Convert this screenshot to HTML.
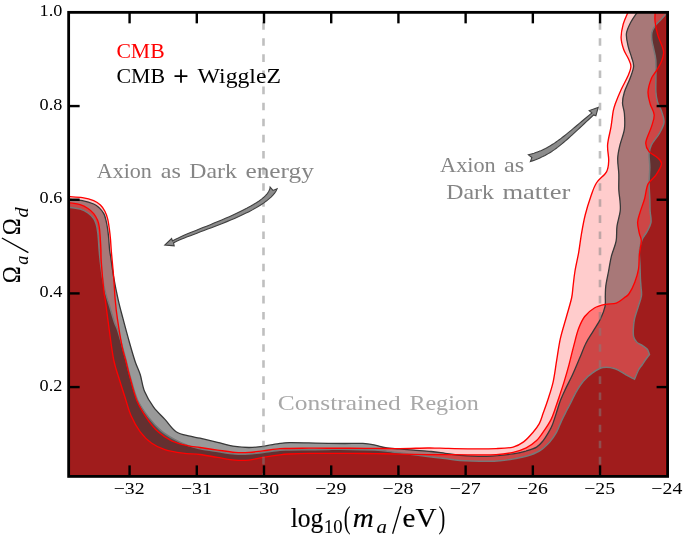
<!DOCTYPE html>
<html><head><meta charset="utf-8"><title>Axion constraints</title>
<style>
html,body{margin:0;padding:0;background:#fff;}
body{width:685px;height:535px;position:relative;overflow:hidden;font-family:"Liberation Serif",serif;}
svg text{font-family:"Liberation Serif",serif;}
</style></head><body>
<svg width="685" height="535" viewBox="0 0 685 535" style="position:absolute;left:0;top:0;will-change:transform">
<defs>
<clipPath id="cRo"><path d="M68.70,196.60 C68.93,196.62 67.82,196.53 70.10,196.70 C72.38,196.87 78.47,196.93 82.40,197.60 C86.33,198.27 90.70,199.45 93.70,200.70 C96.70,201.95 98.53,203.33 100.40,205.10 C102.27,206.87 103.68,208.95 104.90,211.30 C106.12,213.65 106.95,216.20 107.70,219.20 C108.45,222.20 108.93,225.93 109.40,229.30 C109.87,232.67 110.17,235.62 110.50,239.40 C110.83,243.18 110.87,245.67 111.40,252.00 C111.93,258.33 113.07,269.43 113.70,277.40 C114.33,285.37 114.58,292.92 115.20,299.80 C115.82,306.68 116.25,310.88 117.40,318.70 C118.55,326.52 120.73,339.82 122.10,346.70 C123.47,353.58 124.27,354.80 125.60,360.00 C126.93,365.20 128.23,371.17 130.10,377.90 C131.97,384.63 134.00,393.67 136.80,400.40 C139.60,407.13 143.35,413.07 146.90,418.30 C150.45,423.53 153.98,428.05 158.10,431.80 C162.22,435.55 166.73,438.50 171.60,440.80 C176.47,443.10 182.57,444.48 187.30,445.60 C192.03,446.72 194.97,446.75 200.00,447.50 C205.03,448.25 211.67,449.28 217.50,450.10 C223.33,450.92 229.75,452.02 235.00,452.40 C240.25,452.78 244.33,452.67 249.00,452.40 C253.67,452.13 257.83,451.42 263.00,450.80 C268.17,450.18 275.57,449.08 280.00,448.70 C284.43,448.32 284.80,448.58 289.60,448.50 C294.40,448.42 302.38,448.25 308.80,448.20 C315.22,448.15 321.23,448.20 328.10,448.20 C334.97,448.20 342.18,448.17 350.00,448.20 C357.82,448.23 366.73,448.33 375.00,448.40 C383.27,448.47 390.83,448.67 399.60,448.60 C408.37,448.53 420.87,448.07 427.60,448.00 C434.33,447.93 433.27,448.07 440.00,448.20 C446.73,448.33 458.65,448.73 468.00,448.80 C477.35,448.87 488.58,448.88 496.10,448.60 C503.62,448.32 508.52,448.22 513.10,447.10 C517.68,445.98 520.33,444.30 523.60,441.90 C526.87,439.50 530.08,435.75 532.70,432.70 C535.32,429.65 537.55,426.87 539.30,423.60 C541.05,420.33 541.78,417.03 543.20,413.10 C544.62,409.17 546.15,405.17 547.80,400.00 C549.45,394.83 551.62,388.73 553.10,382.10 C554.58,375.47 555.48,367.48 556.70,360.20 C557.92,352.92 558.77,345.68 560.40,338.40 C562.03,331.12 564.63,323.23 566.50,316.50 C568.37,309.77 570.50,303.08 571.60,298.00 C572.70,292.92 572.53,290.50 573.10,286.00 C573.67,281.50 574.07,276.62 575.00,271.00 C575.93,265.38 577.62,258.53 578.70,252.30 C579.78,246.07 580.42,239.82 581.50,233.60 C582.58,227.38 583.65,221.18 585.20,215.00 C586.75,208.82 588.93,201.83 590.80,196.50 C592.67,191.17 593.78,187.12 596.40,183.00 C599.02,178.88 604.45,175.53 606.50,171.80 C608.55,168.07 608.52,165.08 608.70,160.60 C608.88,156.12 607.22,150.52 607.60,144.90 C607.98,139.28 610.07,132.52 611.00,126.90 C611.93,121.28 612.45,115.15 613.20,111.20 C613.95,107.25 614.18,106.78 615.50,103.20 C616.82,99.62 619.05,94.18 621.10,89.70 C623.15,85.22 626.17,80.17 627.80,76.30 C629.43,72.43 630.82,69.45 630.90,66.50 C630.98,63.55 629.50,61.43 628.30,58.60 C627.10,55.77 624.90,52.98 623.70,49.50 C622.50,46.02 621.20,41.85 621.10,37.70 C621.00,33.55 622.00,28.73 623.10,24.60 C624.20,20.47 626.85,15.00 627.70,12.90 C628.55,10.80 628.12,12.15 628.20,12.00 L667.60,12.35 L667.60,476.40 L68.65,476.40 Z"/></clipPath>
<clipPath id="cKo"><path d="M68.70,199.40 C68.93,199.42 67.82,199.28 70.10,199.50 C72.38,199.72 78.47,199.95 82.40,200.70 C86.33,201.45 90.88,202.80 93.70,204.00 C96.52,205.20 97.62,206.30 99.30,207.90 C100.98,209.50 102.68,211.53 103.80,213.60 C104.92,215.67 105.35,217.68 106.00,220.30 C106.65,222.92 107.23,226.12 107.70,229.30 C108.17,232.48 108.48,235.95 108.80,239.40 C109.12,242.85 109.28,247.07 109.60,250.00 C109.92,252.93 110.02,252.43 110.70,257.00 C111.38,261.57 112.45,270.27 113.70,277.40 C114.95,284.53 116.65,292.92 118.20,299.80 C119.75,306.68 121.10,311.50 123.00,318.70 C124.90,325.90 127.57,335.83 129.60,343.00 C131.63,350.17 133.43,356.45 135.20,361.70 C136.97,366.95 138.63,369.53 140.20,374.50 C141.77,379.47 142.37,386.07 144.60,391.50 C146.83,396.93 150.22,402.45 153.60,407.10 C156.98,411.75 161.15,415.28 164.90,419.40 C168.65,423.52 171.92,429.00 176.10,431.80 C180.28,434.60 186.02,435.13 190.00,436.20 C193.98,437.27 195.42,437.18 200.00,438.20 C204.58,439.22 211.67,440.93 217.50,442.30 C223.33,443.67 229.75,445.53 235.00,446.40 C240.25,447.27 244.33,447.50 249.00,447.50 C253.67,447.50 257.83,447.08 263.00,446.40 C268.17,445.72 275.57,444.03 280.00,443.40 C284.43,442.77 284.80,442.68 289.60,442.60 C294.40,442.52 302.38,442.77 308.80,442.90 C315.22,443.03 322.07,443.30 328.10,443.40 C334.13,443.50 339.22,443.50 345.00,443.50 C350.78,443.50 357.80,443.13 362.80,443.40 C367.80,443.67 371.20,444.38 375.00,445.10 C378.80,445.82 381.50,447.07 385.60,447.70 C389.70,448.33 394.93,448.50 399.60,448.90 C404.27,449.30 408.35,449.67 413.60,450.10 C418.85,450.53 425.85,450.97 431.10,451.50 C436.35,452.03 440.28,452.67 445.10,453.30 C449.92,453.93 453.07,454.80 460.00,455.30 C466.93,455.80 477.85,456.53 486.70,456.30 C495.55,456.07 506.52,454.78 513.10,453.90 C519.68,453.02 522.28,452.13 526.20,451.00 C530.12,449.87 533.77,448.83 536.60,447.10 C539.43,445.37 541.23,443.00 543.20,440.60 C545.17,438.20 546.88,435.32 548.40,432.70 C549.92,430.08 550.98,428.17 552.30,424.90 C553.62,421.63 554.95,417.17 556.30,413.10 C557.65,409.03 558.90,404.45 560.40,400.50 C561.90,396.55 563.28,393.68 565.30,389.40 C567.32,385.12 570.08,380.07 572.50,374.80 C574.92,369.53 577.57,363.07 579.80,357.80 C582.03,352.53 583.67,347.65 585.90,343.20 C588.13,338.75 590.77,335.15 593.20,331.10 C595.63,327.05 598.53,322.97 600.50,318.90 C602.47,314.83 604.20,310.52 605.00,306.70 C605.80,302.88 605.17,299.45 605.30,296.00 C605.43,292.55 605.25,290.17 605.80,286.00 C606.35,281.83 607.67,275.98 608.60,271.00 C609.53,266.02 610.15,261.08 611.40,256.10 C612.65,251.12 615.17,246.08 616.10,241.10 C617.03,236.12 616.32,231.18 617.00,226.20 C617.68,221.22 619.70,215.40 620.20,211.20 C620.70,207.00 620.23,204.58 620.00,201.00 C619.77,197.42 619.00,194.20 618.80,189.70 C618.60,185.20 618.98,179.23 618.80,174.00 C618.62,168.77 617.50,163.15 617.70,158.30 C617.90,153.45 618.88,149.75 620.00,144.90 C621.12,140.05 623.67,134.43 624.40,129.20 C625.13,123.97 624.72,117.87 624.40,113.50 C624.08,109.13 622.50,106.58 622.50,103.00 C622.50,99.42 623.15,96.08 624.40,92.00 C625.65,87.92 628.47,82.75 630.00,78.50 C631.53,74.25 633.33,70.03 633.60,66.50 C633.87,62.97 632.48,60.57 631.60,57.30 C630.72,54.03 629.17,50.82 628.30,46.90 C627.43,42.98 625.97,37.95 626.40,33.80 C626.83,29.65 629.17,25.48 630.90,22.00 C632.63,18.52 635.73,14.57 636.80,12.90 C637.87,11.23 637.22,12.15 637.30,12.00 L667.60,12.35 L667.60,476.40 L68.65,476.40 Z"/></clipPath>
<clipPath id="cRi"><path d="M68.70,202.70 C68.93,202.73 68.18,202.58 70.10,202.90 C72.02,203.22 77.22,203.67 80.20,204.60 C83.18,205.53 85.75,207.00 88.00,208.50 C90.25,210.00 92.10,211.63 93.70,213.60 C95.30,215.57 96.67,218.07 97.60,220.30 C98.53,222.53 98.87,224.20 99.30,227.00 C99.73,229.80 99.93,233.35 100.20,237.10 C100.47,240.85 100.72,245.28 100.90,249.50 C101.08,253.72 100.78,255.27 101.30,262.40 C101.82,269.53 103.33,286.03 104.00,292.30 C104.67,298.57 104.47,294.05 105.30,300.00 C106.13,305.95 107.60,318.03 109.00,328.00 C110.40,337.97 111.93,351.08 113.70,359.80 C115.47,368.52 117.78,374.27 119.60,380.30 C121.42,386.33 122.67,390.03 124.60,396.00 C126.53,401.97 128.60,410.13 131.20,416.10 C133.80,422.07 136.83,427.32 140.20,431.80 C143.57,436.28 147.28,440.02 151.40,443.00 C155.52,445.98 159.67,448.00 164.90,449.70 C170.13,451.40 176.95,452.40 182.80,453.20 C188.65,454.00 194.22,453.80 200.00,454.50 C205.78,455.20 211.67,456.47 217.50,457.40 C223.33,458.33 229.75,459.65 235.00,460.10 C240.25,460.55 244.33,460.55 249.00,460.10 C253.67,459.65 257.83,458.28 263.00,457.40 C268.17,456.52 275.57,455.37 280.00,454.80 C284.43,454.23 284.80,454.23 289.60,454.00 C294.40,453.77 302.38,453.50 308.80,453.40 C315.22,453.30 321.23,453.40 328.10,453.40 C334.97,453.40 342.18,453.37 350.00,453.40 C357.82,453.43 366.73,453.47 375.00,453.60 C383.27,453.73 390.83,454.03 399.60,454.20 C408.37,454.37 420.02,454.53 427.60,454.60 C435.18,454.67 438.37,454.57 445.10,454.60 C451.83,454.63 459.50,454.80 468.00,454.80 C476.50,454.80 488.58,455.02 496.10,454.60 C503.62,454.18 508.08,453.43 513.10,452.30 C518.12,451.17 522.28,449.75 526.20,447.80 C530.12,445.85 533.55,443.55 536.60,440.60 C539.65,437.65 542.10,433.60 544.50,430.10 C546.90,426.60 549.25,423.08 551.00,419.60 C552.75,416.12 553.63,413.02 555.00,409.20 C556.37,405.38 557.70,401.22 559.20,396.70 C560.70,392.18 562.38,387.37 564.00,382.10 C565.62,376.83 567.27,371.18 568.90,365.10 C570.53,359.02 572.18,351.68 573.80,345.60 C575.42,339.52 576.78,333.45 578.60,328.60 C580.42,323.75 582.07,319.93 584.70,316.50 C587.33,313.07 590.95,310.03 594.40,308.00 C597.85,305.97 601.75,305.12 605.40,304.30 C609.05,303.48 613.20,304.15 616.30,303.10 C619.40,302.05 621.85,299.60 624.00,298.00 C626.15,296.40 627.40,296.13 629.20,293.50 C631.00,290.87 633.25,286.25 634.80,282.20 C636.35,278.15 637.73,273.87 638.50,269.20 C639.27,264.53 638.93,258.88 639.40,254.20 C639.87,249.52 641.30,244.53 641.30,241.10 C641.30,237.67 640.02,236.72 639.40,233.60 C638.78,230.48 637.48,225.97 637.60,222.40 C637.72,218.83 638.93,216.15 640.10,212.20 C641.27,208.25 643.28,203.38 644.60,198.70 C645.92,194.02 646.12,188.03 648.00,184.10 C649.88,180.17 653.65,178.47 655.90,175.10 C658.15,171.73 661.32,166.88 661.50,163.90 C661.68,160.92 659.07,159.25 657.00,157.20 C654.93,155.15 650.97,154.03 649.10,151.60 C647.23,149.17 645.42,146.72 645.80,142.60 C646.18,138.48 650.00,131.50 651.40,126.90 C652.80,122.30 654.40,118.82 654.20,115.00 C654.00,111.18 651.23,107.83 650.20,104.00 C649.17,100.17 647.80,96.25 648.00,92.00 C648.20,87.75 650.10,81.88 651.40,78.50 C652.70,75.12 654.20,74.35 655.80,71.70 C657.40,69.05 659.70,65.65 661.00,62.60 C662.30,59.55 663.38,56.02 663.60,53.40 C663.82,50.78 663.27,49.95 662.30,46.90 C661.33,43.85 659.00,39.25 657.80,35.10 C656.60,30.95 655.55,25.70 655.10,22.00 C654.65,18.30 655.10,14.57 655.10,12.90 C655.10,11.23 655.10,12.15 655.10,12.00 L667.60,12.35 L667.60,476.40 L68.65,476.40 Z"/></clipPath>
<clipPath id="cKi"><path d="M68.70,207.20 C68.93,207.23 68.18,207.10 70.10,207.40 C72.02,207.70 77.22,208.08 80.20,209.00 C83.18,209.92 85.75,211.32 88.00,212.90 C90.25,214.48 92.32,216.57 93.70,218.50 C95.08,220.43 95.62,222.15 96.30,224.50 C96.98,226.85 97.43,229.93 97.80,232.60 C98.17,235.27 98.28,237.68 98.50,240.50 C98.72,243.32 98.80,245.92 99.10,249.50 C99.40,253.08 99.73,257.25 100.30,262.00 C100.87,266.75 101.65,272.93 102.50,278.00 C103.35,283.07 104.17,287.52 105.40,292.40 C106.63,297.28 108.40,302.33 109.90,307.30 C111.40,312.27 113.08,318.33 114.40,322.20 C115.72,326.07 116.45,326.37 117.80,330.50 C119.15,334.63 121.13,342.08 122.50,347.00 C123.87,351.92 124.65,354.83 126.00,360.00 C127.35,365.17 128.67,371.33 130.60,378.00 C132.53,384.67 134.57,393.40 137.60,400.00 C140.63,406.60 144.90,412.50 148.80,417.60 C152.70,422.70 156.80,427.00 161.00,430.60 C165.20,434.20 169.57,436.73 174.00,439.20 C178.43,441.67 183.27,443.80 187.60,445.40 C191.93,447.00 195.02,447.77 200.00,448.80 C204.98,449.83 211.67,450.73 217.50,451.60 C223.33,452.47 229.75,453.60 235.00,454.00 C240.25,454.40 244.33,454.25 249.00,454.00 C253.67,453.75 257.83,453.12 263.00,452.50 C268.17,451.88 275.57,450.72 280.00,450.30 C284.43,449.88 284.80,450.10 289.60,450.00 C294.40,449.90 302.40,449.78 308.80,449.70 C315.20,449.62 322.80,449.58 328.00,449.50 C333.20,449.42 332.17,449.10 340.00,449.20 C347.83,449.30 366.23,449.63 375.00,450.10 C383.77,450.57 386.75,451.32 392.60,452.00 C398.45,452.68 404.27,453.45 410.10,454.20 C415.93,454.95 421.77,455.77 427.60,456.50 C433.43,457.23 439.70,457.93 445.10,458.60 C450.50,459.27 453.07,460.05 460.00,460.50 C466.93,460.95 480.03,461.25 486.70,461.30 C493.37,461.35 495.60,461.20 500.00,460.80 C504.40,460.40 508.73,459.65 513.10,458.90 C517.47,458.15 521.83,457.62 526.20,456.30 C530.57,454.98 535.38,453.40 539.30,451.00 C543.22,448.60 546.87,444.95 549.70,441.90 C552.53,438.85 554.33,436.20 556.30,432.70 C558.27,429.20 559.77,424.60 561.50,420.90 C563.23,417.20 565.27,413.32 566.70,410.50 C568.13,407.68 568.52,407.12 570.10,404.00 C571.68,400.88 573.97,395.65 576.20,391.80 C578.43,387.95 580.67,384.13 583.50,380.90 C586.33,377.67 589.97,374.63 593.20,372.40 C596.43,370.17 599.25,368.12 602.90,367.50 C606.55,366.88 611.25,367.48 615.10,368.70 C618.95,369.92 622.77,373.05 626.00,374.80 C629.23,376.55 631.70,377.75 634.50,379.20 C635.82,376.16 637.25,372.37 638.50,370.00 C639.75,367.63 640.83,366.70 642.00,365.00 C643.17,363.30 644.25,361.55 645.50,359.80 C646.75,358.05 648.18,356.25 649.50,354.50 C648.77,352.78 648.40,350.75 647.30,349.30 C646.20,347.85 644.65,346.97 642.90,345.80 C641.15,344.63 638.33,343.77 636.80,342.30 C635.27,340.83 634.28,339.05 633.70,337.00 C633.12,334.95 633.17,333.02 633.30,330.00 C633.43,326.98 633.68,322.78 634.50,318.90 C635.32,315.02 637.05,310.52 638.20,306.70 C639.35,302.88 640.93,299.28 641.40,296.00 C641.87,292.72 641.17,289.92 641.00,287.00 C640.83,284.08 640.57,282.10 640.40,278.50 C640.23,274.90 640.17,270.07 640.00,265.40 C639.83,260.73 639.03,254.85 639.40,250.50 C639.77,246.15 640.95,242.42 642.20,239.30 C643.45,236.18 645.43,234.62 646.90,231.80 C648.37,228.98 650.47,225.83 651.00,222.40 C651.53,218.97 650.30,215.15 650.10,211.20 C649.90,207.25 649.97,203.40 649.80,198.70 C649.63,194.00 649.10,188.23 649.10,183.00 C649.10,177.77 649.80,172.17 649.80,167.30 C649.80,162.43 648.83,157.53 649.10,153.80 C649.37,150.07 649.72,148.27 651.40,144.90 C653.08,141.53 657.10,137.35 659.20,133.60 C661.30,129.85 663.62,126.13 664.00,122.40 C664.38,118.67 662.58,114.60 661.50,111.20 C660.42,107.80 658.43,105.20 657.50,102.00 C656.57,98.80 656.17,95.92 655.90,92.00 C655.63,88.08 655.92,83.83 655.90,78.50 C655.88,73.17 656.15,64.83 655.80,60.00 C655.45,55.17 654.45,52.78 653.80,49.50 C653.15,46.22 652.22,43.13 651.90,40.30 C651.58,37.47 651.37,34.90 651.90,32.50 C652.43,30.10 653.58,28.08 655.10,25.90 C656.62,23.72 659.13,21.47 661.00,19.40 C662.87,17.33 665.30,14.73 666.30,13.50 C667.30,12.27 666.88,12.25 667.00,12.00 L667.60,12.35 L667.60,476.40 L68.65,476.40 Z"/></clipPath>
<clipPath id="cAx"><rect x="68.65" y="12.35" width="598.95" height="464.05"/></clipPath>
</defs>
<g clip-path="url(#cAx)">
<path d="M68.70,196.60 C68.93,196.62 67.82,196.53 70.10,196.70 C72.38,196.87 78.47,196.93 82.40,197.60 C86.33,198.27 90.70,199.45 93.70,200.70 C96.70,201.95 98.53,203.33 100.40,205.10 C102.27,206.87 103.68,208.95 104.90,211.30 C106.12,213.65 106.95,216.20 107.70,219.20 C108.45,222.20 108.93,225.93 109.40,229.30 C109.87,232.67 110.17,235.62 110.50,239.40 C110.83,243.18 110.87,245.67 111.40,252.00 C111.93,258.33 113.07,269.43 113.70,277.40 C114.33,285.37 114.58,292.92 115.20,299.80 C115.82,306.68 116.25,310.88 117.40,318.70 C118.55,326.52 120.73,339.82 122.10,346.70 C123.47,353.58 124.27,354.80 125.60,360.00 C126.93,365.20 128.23,371.17 130.10,377.90 C131.97,384.63 134.00,393.67 136.80,400.40 C139.60,407.13 143.35,413.07 146.90,418.30 C150.45,423.53 153.98,428.05 158.10,431.80 C162.22,435.55 166.73,438.50 171.60,440.80 C176.47,443.10 182.57,444.48 187.30,445.60 C192.03,446.72 194.97,446.75 200.00,447.50 C205.03,448.25 211.67,449.28 217.50,450.10 C223.33,450.92 229.75,452.02 235.00,452.40 C240.25,452.78 244.33,452.67 249.00,452.40 C253.67,452.13 257.83,451.42 263.00,450.80 C268.17,450.18 275.57,449.08 280.00,448.70 C284.43,448.32 284.80,448.58 289.60,448.50 C294.40,448.42 302.38,448.25 308.80,448.20 C315.22,448.15 321.23,448.20 328.10,448.20 C334.97,448.20 342.18,448.17 350.00,448.20 C357.82,448.23 366.73,448.33 375.00,448.40 C383.27,448.47 390.83,448.67 399.60,448.60 C408.37,448.53 420.87,448.07 427.60,448.00 C434.33,447.93 433.27,448.07 440.00,448.20 C446.73,448.33 458.65,448.73 468.00,448.80 C477.35,448.87 488.58,448.88 496.10,448.60 C503.62,448.32 508.52,448.22 513.10,447.10 C517.68,445.98 520.33,444.30 523.60,441.90 C526.87,439.50 530.08,435.75 532.70,432.70 C535.32,429.65 537.55,426.87 539.30,423.60 C541.05,420.33 541.78,417.03 543.20,413.10 C544.62,409.17 546.15,405.17 547.80,400.00 C549.45,394.83 551.62,388.73 553.10,382.10 C554.58,375.47 555.48,367.48 556.70,360.20 C557.92,352.92 558.77,345.68 560.40,338.40 C562.03,331.12 564.63,323.23 566.50,316.50 C568.37,309.77 570.50,303.08 571.60,298.00 C572.70,292.92 572.53,290.50 573.10,286.00 C573.67,281.50 574.07,276.62 575.00,271.00 C575.93,265.38 577.62,258.53 578.70,252.30 C579.78,246.07 580.42,239.82 581.50,233.60 C582.58,227.38 583.65,221.18 585.20,215.00 C586.75,208.82 588.93,201.83 590.80,196.50 C592.67,191.17 593.78,187.12 596.40,183.00 C599.02,178.88 604.45,175.53 606.50,171.80 C608.55,168.07 608.52,165.08 608.70,160.60 C608.88,156.12 607.22,150.52 607.60,144.90 C607.98,139.28 610.07,132.52 611.00,126.90 C611.93,121.28 612.45,115.15 613.20,111.20 C613.95,107.25 614.18,106.78 615.50,103.20 C616.82,99.62 619.05,94.18 621.10,89.70 C623.15,85.22 626.17,80.17 627.80,76.30 C629.43,72.43 630.82,69.45 630.90,66.50 C630.98,63.55 629.50,61.43 628.30,58.60 C627.10,55.77 624.90,52.98 623.70,49.50 C622.50,46.02 621.20,41.85 621.10,37.70 C621.00,33.55 622.00,28.73 623.10,24.60 C624.20,20.47 626.85,15.00 627.70,12.90 C628.55,10.80 628.12,12.15 628.20,12.00 L667.60,12.35 L667.60,476.40 L68.65,476.40 Z" fill="#ffcccc"/>
<path d="M68.70,199.40 C68.93,199.42 67.82,199.28 70.10,199.50 C72.38,199.72 78.47,199.95 82.40,200.70 C86.33,201.45 90.88,202.80 93.70,204.00 C96.52,205.20 97.62,206.30 99.30,207.90 C100.98,209.50 102.68,211.53 103.80,213.60 C104.92,215.67 105.35,217.68 106.00,220.30 C106.65,222.92 107.23,226.12 107.70,229.30 C108.17,232.48 108.48,235.95 108.80,239.40 C109.12,242.85 109.28,247.07 109.60,250.00 C109.92,252.93 110.02,252.43 110.70,257.00 C111.38,261.57 112.45,270.27 113.70,277.40 C114.95,284.53 116.65,292.92 118.20,299.80 C119.75,306.68 121.10,311.50 123.00,318.70 C124.90,325.90 127.57,335.83 129.60,343.00 C131.63,350.17 133.43,356.45 135.20,361.70 C136.97,366.95 138.63,369.53 140.20,374.50 C141.77,379.47 142.37,386.07 144.60,391.50 C146.83,396.93 150.22,402.45 153.60,407.10 C156.98,411.75 161.15,415.28 164.90,419.40 C168.65,423.52 171.92,429.00 176.10,431.80 C180.28,434.60 186.02,435.13 190.00,436.20 C193.98,437.27 195.42,437.18 200.00,438.20 C204.58,439.22 211.67,440.93 217.50,442.30 C223.33,443.67 229.75,445.53 235.00,446.40 C240.25,447.27 244.33,447.50 249.00,447.50 C253.67,447.50 257.83,447.08 263.00,446.40 C268.17,445.72 275.57,444.03 280.00,443.40 C284.43,442.77 284.80,442.68 289.60,442.60 C294.40,442.52 302.38,442.77 308.80,442.90 C315.22,443.03 322.07,443.30 328.10,443.40 C334.13,443.50 339.22,443.50 345.00,443.50 C350.78,443.50 357.80,443.13 362.80,443.40 C367.80,443.67 371.20,444.38 375.00,445.10 C378.80,445.82 381.50,447.07 385.60,447.70 C389.70,448.33 394.93,448.50 399.60,448.90 C404.27,449.30 408.35,449.67 413.60,450.10 C418.85,450.53 425.85,450.97 431.10,451.50 C436.35,452.03 440.28,452.67 445.10,453.30 C449.92,453.93 453.07,454.80 460.00,455.30 C466.93,455.80 477.85,456.53 486.70,456.30 C495.55,456.07 506.52,454.78 513.10,453.90 C519.68,453.02 522.28,452.13 526.20,451.00 C530.12,449.87 533.77,448.83 536.60,447.10 C539.43,445.37 541.23,443.00 543.20,440.60 C545.17,438.20 546.88,435.32 548.40,432.70 C549.92,430.08 550.98,428.17 552.30,424.90 C553.62,421.63 554.95,417.17 556.30,413.10 C557.65,409.03 558.90,404.45 560.40,400.50 C561.90,396.55 563.28,393.68 565.30,389.40 C567.32,385.12 570.08,380.07 572.50,374.80 C574.92,369.53 577.57,363.07 579.80,357.80 C582.03,352.53 583.67,347.65 585.90,343.20 C588.13,338.75 590.77,335.15 593.20,331.10 C595.63,327.05 598.53,322.97 600.50,318.90 C602.47,314.83 604.20,310.52 605.00,306.70 C605.80,302.88 605.17,299.45 605.30,296.00 C605.43,292.55 605.25,290.17 605.80,286.00 C606.35,281.83 607.67,275.98 608.60,271.00 C609.53,266.02 610.15,261.08 611.40,256.10 C612.65,251.12 615.17,246.08 616.10,241.10 C617.03,236.12 616.32,231.18 617.00,226.20 C617.68,221.22 619.70,215.40 620.20,211.20 C620.70,207.00 620.23,204.58 620.00,201.00 C619.77,197.42 619.00,194.20 618.80,189.70 C618.60,185.20 618.98,179.23 618.80,174.00 C618.62,168.77 617.50,163.15 617.70,158.30 C617.90,153.45 618.88,149.75 620.00,144.90 C621.12,140.05 623.67,134.43 624.40,129.20 C625.13,123.97 624.72,117.87 624.40,113.50 C624.08,109.13 622.50,106.58 622.50,103.00 C622.50,99.42 623.15,96.08 624.40,92.00 C625.65,87.92 628.47,82.75 630.00,78.50 C631.53,74.25 633.33,70.03 633.60,66.50 C633.87,62.97 632.48,60.57 631.60,57.30 C630.72,54.03 629.17,50.82 628.30,46.90 C627.43,42.98 625.97,37.95 626.40,33.80 C626.83,29.65 629.17,25.48 630.90,22.00 C632.63,18.52 635.73,14.57 636.80,12.90 C637.87,11.23 637.22,12.15 637.30,12.00 L667.60,12.35 L667.60,476.40 L68.65,476.40 Z" fill="#999999"/>
<g clip-path="url(#cRo)"><path d="M68.70,199.40 C68.93,199.42 67.82,199.28 70.10,199.50 C72.38,199.72 78.47,199.95 82.40,200.70 C86.33,201.45 90.88,202.80 93.70,204.00 C96.52,205.20 97.62,206.30 99.30,207.90 C100.98,209.50 102.68,211.53 103.80,213.60 C104.92,215.67 105.35,217.68 106.00,220.30 C106.65,222.92 107.23,226.12 107.70,229.30 C108.17,232.48 108.48,235.95 108.80,239.40 C109.12,242.85 109.28,247.07 109.60,250.00 C109.92,252.93 110.02,252.43 110.70,257.00 C111.38,261.57 112.45,270.27 113.70,277.40 C114.95,284.53 116.65,292.92 118.20,299.80 C119.75,306.68 121.10,311.50 123.00,318.70 C124.90,325.90 127.57,335.83 129.60,343.00 C131.63,350.17 133.43,356.45 135.20,361.70 C136.97,366.95 138.63,369.53 140.20,374.50 C141.77,379.47 142.37,386.07 144.60,391.50 C146.83,396.93 150.22,402.45 153.60,407.10 C156.98,411.75 161.15,415.28 164.90,419.40 C168.65,423.52 171.92,429.00 176.10,431.80 C180.28,434.60 186.02,435.13 190.00,436.20 C193.98,437.27 195.42,437.18 200.00,438.20 C204.58,439.22 211.67,440.93 217.50,442.30 C223.33,443.67 229.75,445.53 235.00,446.40 C240.25,447.27 244.33,447.50 249.00,447.50 C253.67,447.50 257.83,447.08 263.00,446.40 C268.17,445.72 275.57,444.03 280.00,443.40 C284.43,442.77 284.80,442.68 289.60,442.60 C294.40,442.52 302.38,442.77 308.80,442.90 C315.22,443.03 322.07,443.30 328.10,443.40 C334.13,443.50 339.22,443.50 345.00,443.50 C350.78,443.50 357.80,443.13 362.80,443.40 C367.80,443.67 371.20,444.38 375.00,445.10 C378.80,445.82 381.50,447.07 385.60,447.70 C389.70,448.33 394.93,448.50 399.60,448.90 C404.27,449.30 408.35,449.67 413.60,450.10 C418.85,450.53 425.85,450.97 431.10,451.50 C436.35,452.03 440.28,452.67 445.10,453.30 C449.92,453.93 453.07,454.80 460.00,455.30 C466.93,455.80 477.85,456.53 486.70,456.30 C495.55,456.07 506.52,454.78 513.10,453.90 C519.68,453.02 522.28,452.13 526.20,451.00 C530.12,449.87 533.77,448.83 536.60,447.10 C539.43,445.37 541.23,443.00 543.20,440.60 C545.17,438.20 546.88,435.32 548.40,432.70 C549.92,430.08 550.98,428.17 552.30,424.90 C553.62,421.63 554.95,417.17 556.30,413.10 C557.65,409.03 558.90,404.45 560.40,400.50 C561.90,396.55 563.28,393.68 565.30,389.40 C567.32,385.12 570.08,380.07 572.50,374.80 C574.92,369.53 577.57,363.07 579.80,357.80 C582.03,352.53 583.67,347.65 585.90,343.20 C588.13,338.75 590.77,335.15 593.20,331.10 C595.63,327.05 598.53,322.97 600.50,318.90 C602.47,314.83 604.20,310.52 605.00,306.70 C605.80,302.88 605.17,299.45 605.30,296.00 C605.43,292.55 605.25,290.17 605.80,286.00 C606.35,281.83 607.67,275.98 608.60,271.00 C609.53,266.02 610.15,261.08 611.40,256.10 C612.65,251.12 615.17,246.08 616.10,241.10 C617.03,236.12 616.32,231.18 617.00,226.20 C617.68,221.22 619.70,215.40 620.20,211.20 C620.70,207.00 620.23,204.58 620.00,201.00 C619.77,197.42 619.00,194.20 618.80,189.70 C618.60,185.20 618.98,179.23 618.80,174.00 C618.62,168.77 617.50,163.15 617.70,158.30 C617.90,153.45 618.88,149.75 620.00,144.90 C621.12,140.05 623.67,134.43 624.40,129.20 C625.13,123.97 624.72,117.87 624.40,113.50 C624.08,109.13 622.50,106.58 622.50,103.00 C622.50,99.42 623.15,96.08 624.40,92.00 C625.65,87.92 628.47,82.75 630.00,78.50 C631.53,74.25 633.33,70.03 633.60,66.50 C633.87,62.97 632.48,60.57 631.60,57.30 C630.72,54.03 629.17,50.82 628.30,46.90 C627.43,42.98 625.97,37.95 626.40,33.80 C626.83,29.65 629.17,25.48 630.90,22.00 C632.63,18.52 635.73,14.57 636.80,12.90 C637.87,11.23 637.22,12.15 637.30,12.00 L667.60,12.35 L667.60,476.40 L68.65,476.40 Z" fill="#a87878"/></g>
<path d="M68.70,202.70 C68.93,202.73 68.18,202.58 70.10,202.90 C72.02,203.22 77.22,203.67 80.20,204.60 C83.18,205.53 85.75,207.00 88.00,208.50 C90.25,210.00 92.10,211.63 93.70,213.60 C95.30,215.57 96.67,218.07 97.60,220.30 C98.53,222.53 98.87,224.20 99.30,227.00 C99.73,229.80 99.93,233.35 100.20,237.10 C100.47,240.85 100.72,245.28 100.90,249.50 C101.08,253.72 100.78,255.27 101.30,262.40 C101.82,269.53 103.33,286.03 104.00,292.30 C104.67,298.57 104.47,294.05 105.30,300.00 C106.13,305.95 107.60,318.03 109.00,328.00 C110.40,337.97 111.93,351.08 113.70,359.80 C115.47,368.52 117.78,374.27 119.60,380.30 C121.42,386.33 122.67,390.03 124.60,396.00 C126.53,401.97 128.60,410.13 131.20,416.10 C133.80,422.07 136.83,427.32 140.20,431.80 C143.57,436.28 147.28,440.02 151.40,443.00 C155.52,445.98 159.67,448.00 164.90,449.70 C170.13,451.40 176.95,452.40 182.80,453.20 C188.65,454.00 194.22,453.80 200.00,454.50 C205.78,455.20 211.67,456.47 217.50,457.40 C223.33,458.33 229.75,459.65 235.00,460.10 C240.25,460.55 244.33,460.55 249.00,460.10 C253.67,459.65 257.83,458.28 263.00,457.40 C268.17,456.52 275.57,455.37 280.00,454.80 C284.43,454.23 284.80,454.23 289.60,454.00 C294.40,453.77 302.38,453.50 308.80,453.40 C315.22,453.30 321.23,453.40 328.10,453.40 C334.97,453.40 342.18,453.37 350.00,453.40 C357.82,453.43 366.73,453.47 375.00,453.60 C383.27,453.73 390.83,454.03 399.60,454.20 C408.37,454.37 420.02,454.53 427.60,454.60 C435.18,454.67 438.37,454.57 445.10,454.60 C451.83,454.63 459.50,454.80 468.00,454.80 C476.50,454.80 488.58,455.02 496.10,454.60 C503.62,454.18 508.08,453.43 513.10,452.30 C518.12,451.17 522.28,449.75 526.20,447.80 C530.12,445.85 533.55,443.55 536.60,440.60 C539.65,437.65 542.10,433.60 544.50,430.10 C546.90,426.60 549.25,423.08 551.00,419.60 C552.75,416.12 553.63,413.02 555.00,409.20 C556.37,405.38 557.70,401.22 559.20,396.70 C560.70,392.18 562.38,387.37 564.00,382.10 C565.62,376.83 567.27,371.18 568.90,365.10 C570.53,359.02 572.18,351.68 573.80,345.60 C575.42,339.52 576.78,333.45 578.60,328.60 C580.42,323.75 582.07,319.93 584.70,316.50 C587.33,313.07 590.95,310.03 594.40,308.00 C597.85,305.97 601.75,305.12 605.40,304.30 C609.05,303.48 613.20,304.15 616.30,303.10 C619.40,302.05 621.85,299.60 624.00,298.00 C626.15,296.40 627.40,296.13 629.20,293.50 C631.00,290.87 633.25,286.25 634.80,282.20 C636.35,278.15 637.73,273.87 638.50,269.20 C639.27,264.53 638.93,258.88 639.40,254.20 C639.87,249.52 641.30,244.53 641.30,241.10 C641.30,237.67 640.02,236.72 639.40,233.60 C638.78,230.48 637.48,225.97 637.60,222.40 C637.72,218.83 638.93,216.15 640.10,212.20 C641.27,208.25 643.28,203.38 644.60,198.70 C645.92,194.02 646.12,188.03 648.00,184.10 C649.88,180.17 653.65,178.47 655.90,175.10 C658.15,171.73 661.32,166.88 661.50,163.90 C661.68,160.92 659.07,159.25 657.00,157.20 C654.93,155.15 650.97,154.03 649.10,151.60 C647.23,149.17 645.42,146.72 645.80,142.60 C646.18,138.48 650.00,131.50 651.40,126.90 C652.80,122.30 654.40,118.82 654.20,115.00 C654.00,111.18 651.23,107.83 650.20,104.00 C649.17,100.17 647.80,96.25 648.00,92.00 C648.20,87.75 650.10,81.88 651.40,78.50 C652.70,75.12 654.20,74.35 655.80,71.70 C657.40,69.05 659.70,65.65 661.00,62.60 C662.30,59.55 663.38,56.02 663.60,53.40 C663.82,50.78 663.27,49.95 662.30,46.90 C661.33,43.85 659.00,39.25 657.80,35.10 C656.60,30.95 655.55,25.70 655.10,22.00 C654.65,18.30 655.10,14.57 655.10,12.90 C655.10,11.23 655.10,12.15 655.10,12.00 L667.60,12.35 L667.60,476.40 L68.65,476.40 Z" fill="#ff7a7a"/>
<g clip-path="url(#cKo)"><path d="M68.70,202.70 C68.93,202.73 68.18,202.58 70.10,202.90 C72.02,203.22 77.22,203.67 80.20,204.60 C83.18,205.53 85.75,207.00 88.00,208.50 C90.25,210.00 92.10,211.63 93.70,213.60 C95.30,215.57 96.67,218.07 97.60,220.30 C98.53,222.53 98.87,224.20 99.30,227.00 C99.73,229.80 99.93,233.35 100.20,237.10 C100.47,240.85 100.72,245.28 100.90,249.50 C101.08,253.72 100.78,255.27 101.30,262.40 C101.82,269.53 103.33,286.03 104.00,292.30 C104.67,298.57 104.47,294.05 105.30,300.00 C106.13,305.95 107.60,318.03 109.00,328.00 C110.40,337.97 111.93,351.08 113.70,359.80 C115.47,368.52 117.78,374.27 119.60,380.30 C121.42,386.33 122.67,390.03 124.60,396.00 C126.53,401.97 128.60,410.13 131.20,416.10 C133.80,422.07 136.83,427.32 140.20,431.80 C143.57,436.28 147.28,440.02 151.40,443.00 C155.52,445.98 159.67,448.00 164.90,449.70 C170.13,451.40 176.95,452.40 182.80,453.20 C188.65,454.00 194.22,453.80 200.00,454.50 C205.78,455.20 211.67,456.47 217.50,457.40 C223.33,458.33 229.75,459.65 235.00,460.10 C240.25,460.55 244.33,460.55 249.00,460.10 C253.67,459.65 257.83,458.28 263.00,457.40 C268.17,456.52 275.57,455.37 280.00,454.80 C284.43,454.23 284.80,454.23 289.60,454.00 C294.40,453.77 302.38,453.50 308.80,453.40 C315.22,453.30 321.23,453.40 328.10,453.40 C334.97,453.40 342.18,453.37 350.00,453.40 C357.82,453.43 366.73,453.47 375.00,453.60 C383.27,453.73 390.83,454.03 399.60,454.20 C408.37,454.37 420.02,454.53 427.60,454.60 C435.18,454.67 438.37,454.57 445.10,454.60 C451.83,454.63 459.50,454.80 468.00,454.80 C476.50,454.80 488.58,455.02 496.10,454.60 C503.62,454.18 508.08,453.43 513.10,452.30 C518.12,451.17 522.28,449.75 526.20,447.80 C530.12,445.85 533.55,443.55 536.60,440.60 C539.65,437.65 542.10,433.60 544.50,430.10 C546.90,426.60 549.25,423.08 551.00,419.60 C552.75,416.12 553.63,413.02 555.00,409.20 C556.37,405.38 557.70,401.22 559.20,396.70 C560.70,392.18 562.38,387.37 564.00,382.10 C565.62,376.83 567.27,371.18 568.90,365.10 C570.53,359.02 572.18,351.68 573.80,345.60 C575.42,339.52 576.78,333.45 578.60,328.60 C580.42,323.75 582.07,319.93 584.70,316.50 C587.33,313.07 590.95,310.03 594.40,308.00 C597.85,305.97 601.75,305.12 605.40,304.30 C609.05,303.48 613.20,304.15 616.30,303.10 C619.40,302.05 621.85,299.60 624.00,298.00 C626.15,296.40 627.40,296.13 629.20,293.50 C631.00,290.87 633.25,286.25 634.80,282.20 C636.35,278.15 637.73,273.87 638.50,269.20 C639.27,264.53 638.93,258.88 639.40,254.20 C639.87,249.52 641.30,244.53 641.30,241.10 C641.30,237.67 640.02,236.72 639.40,233.60 C638.78,230.48 637.48,225.97 637.60,222.40 C637.72,218.83 638.93,216.15 640.10,212.20 C641.27,208.25 643.28,203.38 644.60,198.70 C645.92,194.02 646.12,188.03 648.00,184.10 C649.88,180.17 653.65,178.47 655.90,175.10 C658.15,171.73 661.32,166.88 661.50,163.90 C661.68,160.92 659.07,159.25 657.00,157.20 C654.93,155.15 650.97,154.03 649.10,151.60 C647.23,149.17 645.42,146.72 645.80,142.60 C646.18,138.48 650.00,131.50 651.40,126.90 C652.80,122.30 654.40,118.82 654.20,115.00 C654.00,111.18 651.23,107.83 650.20,104.00 C649.17,100.17 647.80,96.25 648.00,92.00 C648.20,87.75 650.10,81.88 651.40,78.50 C652.70,75.12 654.20,74.35 655.80,71.70 C657.40,69.05 659.70,65.65 661.00,62.60 C662.30,59.55 663.38,56.02 663.60,53.40 C663.82,50.78 663.27,49.95 662.30,46.90 C661.33,43.85 659.00,39.25 657.80,35.10 C656.60,30.95 655.55,25.70 655.10,22.00 C654.65,18.30 655.10,14.57 655.10,12.90 C655.10,11.23 655.10,12.15 655.10,12.00 L667.60,12.35 L667.60,476.40 L68.65,476.40 Z" fill="#cd4646"/></g>
<path d="M68.70,207.20 C68.93,207.23 68.18,207.10 70.10,207.40 C72.02,207.70 77.22,208.08 80.20,209.00 C83.18,209.92 85.75,211.32 88.00,212.90 C90.25,214.48 92.32,216.57 93.70,218.50 C95.08,220.43 95.62,222.15 96.30,224.50 C96.98,226.85 97.43,229.93 97.80,232.60 C98.17,235.27 98.28,237.68 98.50,240.50 C98.72,243.32 98.80,245.92 99.10,249.50 C99.40,253.08 99.73,257.25 100.30,262.00 C100.87,266.75 101.65,272.93 102.50,278.00 C103.35,283.07 104.17,287.52 105.40,292.40 C106.63,297.28 108.40,302.33 109.90,307.30 C111.40,312.27 113.08,318.33 114.40,322.20 C115.72,326.07 116.45,326.37 117.80,330.50 C119.15,334.63 121.13,342.08 122.50,347.00 C123.87,351.92 124.65,354.83 126.00,360.00 C127.35,365.17 128.67,371.33 130.60,378.00 C132.53,384.67 134.57,393.40 137.60,400.00 C140.63,406.60 144.90,412.50 148.80,417.60 C152.70,422.70 156.80,427.00 161.00,430.60 C165.20,434.20 169.57,436.73 174.00,439.20 C178.43,441.67 183.27,443.80 187.60,445.40 C191.93,447.00 195.02,447.77 200.00,448.80 C204.98,449.83 211.67,450.73 217.50,451.60 C223.33,452.47 229.75,453.60 235.00,454.00 C240.25,454.40 244.33,454.25 249.00,454.00 C253.67,453.75 257.83,453.12 263.00,452.50 C268.17,451.88 275.57,450.72 280.00,450.30 C284.43,449.88 284.80,450.10 289.60,450.00 C294.40,449.90 302.40,449.78 308.80,449.70 C315.20,449.62 322.80,449.58 328.00,449.50 C333.20,449.42 332.17,449.10 340.00,449.20 C347.83,449.30 366.23,449.63 375.00,450.10 C383.77,450.57 386.75,451.32 392.60,452.00 C398.45,452.68 404.27,453.45 410.10,454.20 C415.93,454.95 421.77,455.77 427.60,456.50 C433.43,457.23 439.70,457.93 445.10,458.60 C450.50,459.27 453.07,460.05 460.00,460.50 C466.93,460.95 480.03,461.25 486.70,461.30 C493.37,461.35 495.60,461.20 500.00,460.80 C504.40,460.40 508.73,459.65 513.10,458.90 C517.47,458.15 521.83,457.62 526.20,456.30 C530.57,454.98 535.38,453.40 539.30,451.00 C543.22,448.60 546.87,444.95 549.70,441.90 C552.53,438.85 554.33,436.20 556.30,432.70 C558.27,429.20 559.77,424.60 561.50,420.90 C563.23,417.20 565.27,413.32 566.70,410.50 C568.13,407.68 568.52,407.12 570.10,404.00 C571.68,400.88 573.97,395.65 576.20,391.80 C578.43,387.95 580.67,384.13 583.50,380.90 C586.33,377.67 589.97,374.63 593.20,372.40 C596.43,370.17 599.25,368.12 602.90,367.50 C606.55,366.88 611.25,367.48 615.10,368.70 C618.95,369.92 622.77,373.05 626.00,374.80 C629.23,376.55 631.70,377.75 634.50,379.20 C635.82,376.16 637.25,372.37 638.50,370.00 C639.75,367.63 640.83,366.70 642.00,365.00 C643.17,363.30 644.25,361.55 645.50,359.80 C646.75,358.05 648.18,356.25 649.50,354.50 C648.77,352.78 648.40,350.75 647.30,349.30 C646.20,347.85 644.65,346.97 642.90,345.80 C641.15,344.63 638.33,343.77 636.80,342.30 C635.27,340.83 634.28,339.05 633.70,337.00 C633.12,334.95 633.17,333.02 633.30,330.00 C633.43,326.98 633.68,322.78 634.50,318.90 C635.32,315.02 637.05,310.52 638.20,306.70 C639.35,302.88 640.93,299.28 641.40,296.00 C641.87,292.72 641.17,289.92 641.00,287.00 C640.83,284.08 640.57,282.10 640.40,278.50 C640.23,274.90 640.17,270.07 640.00,265.40 C639.83,260.73 639.03,254.85 639.40,250.50 C639.77,246.15 640.95,242.42 642.20,239.30 C643.45,236.18 645.43,234.62 646.90,231.80 C648.37,228.98 650.47,225.83 651.00,222.40 C651.53,218.97 650.30,215.15 650.10,211.20 C649.90,207.25 649.97,203.40 649.80,198.70 C649.63,194.00 649.10,188.23 649.10,183.00 C649.10,177.77 649.80,172.17 649.80,167.30 C649.80,162.43 648.83,157.53 649.10,153.80 C649.37,150.07 649.72,148.27 651.40,144.90 C653.08,141.53 657.10,137.35 659.20,133.60 C661.30,129.85 663.62,126.13 664.00,122.40 C664.38,118.67 662.58,114.60 661.50,111.20 C660.42,107.80 658.43,105.20 657.50,102.00 C656.57,98.80 656.17,95.92 655.90,92.00 C655.63,88.08 655.92,83.83 655.90,78.50 C655.88,73.17 656.15,64.83 655.80,60.00 C655.45,55.17 654.45,52.78 653.80,49.50 C653.15,46.22 652.22,43.13 651.90,40.30 C651.58,37.47 651.37,34.90 651.90,32.50 C652.43,30.10 653.58,28.08 655.10,25.90 C656.62,23.72 659.13,21.47 661.00,19.40 C662.87,17.33 665.30,14.73 666.30,13.50 C667.30,12.27 666.88,12.25 667.00,12.00 L667.60,12.35 L667.60,476.40 L68.65,476.40 Z" fill="#4c5050"/>
<g clip-path="url(#cRo)"><path d="M68.70,207.20 C68.93,207.23 68.18,207.10 70.10,207.40 C72.02,207.70 77.22,208.08 80.20,209.00 C83.18,209.92 85.75,211.32 88.00,212.90 C90.25,214.48 92.32,216.57 93.70,218.50 C95.08,220.43 95.62,222.15 96.30,224.50 C96.98,226.85 97.43,229.93 97.80,232.60 C98.17,235.27 98.28,237.68 98.50,240.50 C98.72,243.32 98.80,245.92 99.10,249.50 C99.40,253.08 99.73,257.25 100.30,262.00 C100.87,266.75 101.65,272.93 102.50,278.00 C103.35,283.07 104.17,287.52 105.40,292.40 C106.63,297.28 108.40,302.33 109.90,307.30 C111.40,312.27 113.08,318.33 114.40,322.20 C115.72,326.07 116.45,326.37 117.80,330.50 C119.15,334.63 121.13,342.08 122.50,347.00 C123.87,351.92 124.65,354.83 126.00,360.00 C127.35,365.17 128.67,371.33 130.60,378.00 C132.53,384.67 134.57,393.40 137.60,400.00 C140.63,406.60 144.90,412.50 148.80,417.60 C152.70,422.70 156.80,427.00 161.00,430.60 C165.20,434.20 169.57,436.73 174.00,439.20 C178.43,441.67 183.27,443.80 187.60,445.40 C191.93,447.00 195.02,447.77 200.00,448.80 C204.98,449.83 211.67,450.73 217.50,451.60 C223.33,452.47 229.75,453.60 235.00,454.00 C240.25,454.40 244.33,454.25 249.00,454.00 C253.67,453.75 257.83,453.12 263.00,452.50 C268.17,451.88 275.57,450.72 280.00,450.30 C284.43,449.88 284.80,450.10 289.60,450.00 C294.40,449.90 302.40,449.78 308.80,449.70 C315.20,449.62 322.80,449.58 328.00,449.50 C333.20,449.42 332.17,449.10 340.00,449.20 C347.83,449.30 366.23,449.63 375.00,450.10 C383.77,450.57 386.75,451.32 392.60,452.00 C398.45,452.68 404.27,453.45 410.10,454.20 C415.93,454.95 421.77,455.77 427.60,456.50 C433.43,457.23 439.70,457.93 445.10,458.60 C450.50,459.27 453.07,460.05 460.00,460.50 C466.93,460.95 480.03,461.25 486.70,461.30 C493.37,461.35 495.60,461.20 500.00,460.80 C504.40,460.40 508.73,459.65 513.10,458.90 C517.47,458.15 521.83,457.62 526.20,456.30 C530.57,454.98 535.38,453.40 539.30,451.00 C543.22,448.60 546.87,444.95 549.70,441.90 C552.53,438.85 554.33,436.20 556.30,432.70 C558.27,429.20 559.77,424.60 561.50,420.90 C563.23,417.20 565.27,413.32 566.70,410.50 C568.13,407.68 568.52,407.12 570.10,404.00 C571.68,400.88 573.97,395.65 576.20,391.80 C578.43,387.95 580.67,384.13 583.50,380.90 C586.33,377.67 589.97,374.63 593.20,372.40 C596.43,370.17 599.25,368.12 602.90,367.50 C606.55,366.88 611.25,367.48 615.10,368.70 C618.95,369.92 622.77,373.05 626.00,374.80 C629.23,376.55 631.70,377.75 634.50,379.20 C635.82,376.16 637.25,372.37 638.50,370.00 C639.75,367.63 640.83,366.70 642.00,365.00 C643.17,363.30 644.25,361.55 645.50,359.80 C646.75,358.05 648.18,356.25 649.50,354.50 C648.77,352.78 648.40,350.75 647.30,349.30 C646.20,347.85 644.65,346.97 642.90,345.80 C641.15,344.63 638.33,343.77 636.80,342.30 C635.27,340.83 634.28,339.05 633.70,337.00 C633.12,334.95 633.17,333.02 633.30,330.00 C633.43,326.98 633.68,322.78 634.50,318.90 C635.32,315.02 637.05,310.52 638.20,306.70 C639.35,302.88 640.93,299.28 641.40,296.00 C641.87,292.72 641.17,289.92 641.00,287.00 C640.83,284.08 640.57,282.10 640.40,278.50 C640.23,274.90 640.17,270.07 640.00,265.40 C639.83,260.73 639.03,254.85 639.40,250.50 C639.77,246.15 640.95,242.42 642.20,239.30 C643.45,236.18 645.43,234.62 646.90,231.80 C648.37,228.98 650.47,225.83 651.00,222.40 C651.53,218.97 650.30,215.15 650.10,211.20 C649.90,207.25 649.97,203.40 649.80,198.70 C649.63,194.00 649.10,188.23 649.10,183.00 C649.10,177.77 649.80,172.17 649.80,167.30 C649.80,162.43 648.83,157.53 649.10,153.80 C649.37,150.07 649.72,148.27 651.40,144.90 C653.08,141.53 657.10,137.35 659.20,133.60 C661.30,129.85 663.62,126.13 664.00,122.40 C664.38,118.67 662.58,114.60 661.50,111.20 C660.42,107.80 658.43,105.20 657.50,102.00 C656.57,98.80 656.17,95.92 655.90,92.00 C655.63,88.08 655.92,83.83 655.90,78.50 C655.88,73.17 656.15,64.83 655.80,60.00 C655.45,55.17 654.45,52.78 653.80,49.50 C653.15,46.22 652.22,43.13 651.90,40.30 C651.58,37.47 651.37,34.90 651.90,32.50 C652.43,30.10 653.58,28.08 655.10,25.90 C656.62,23.72 659.13,21.47 661.00,19.40 C662.87,17.33 665.30,14.73 666.30,13.50 C667.30,12.27 666.88,12.25 667.00,12.00 L667.60,12.35 L667.60,476.40 L68.65,476.40 Z" fill="#643030"/></g>
<g clip-path="url(#cRi)"><path d="M68.70,207.20 C68.93,207.23 68.18,207.10 70.10,207.40 C72.02,207.70 77.22,208.08 80.20,209.00 C83.18,209.92 85.75,211.32 88.00,212.90 C90.25,214.48 92.32,216.57 93.70,218.50 C95.08,220.43 95.62,222.15 96.30,224.50 C96.98,226.85 97.43,229.93 97.80,232.60 C98.17,235.27 98.28,237.68 98.50,240.50 C98.72,243.32 98.80,245.92 99.10,249.50 C99.40,253.08 99.73,257.25 100.30,262.00 C100.87,266.75 101.65,272.93 102.50,278.00 C103.35,283.07 104.17,287.52 105.40,292.40 C106.63,297.28 108.40,302.33 109.90,307.30 C111.40,312.27 113.08,318.33 114.40,322.20 C115.72,326.07 116.45,326.37 117.80,330.50 C119.15,334.63 121.13,342.08 122.50,347.00 C123.87,351.92 124.65,354.83 126.00,360.00 C127.35,365.17 128.67,371.33 130.60,378.00 C132.53,384.67 134.57,393.40 137.60,400.00 C140.63,406.60 144.90,412.50 148.80,417.60 C152.70,422.70 156.80,427.00 161.00,430.60 C165.20,434.20 169.57,436.73 174.00,439.20 C178.43,441.67 183.27,443.80 187.60,445.40 C191.93,447.00 195.02,447.77 200.00,448.80 C204.98,449.83 211.67,450.73 217.50,451.60 C223.33,452.47 229.75,453.60 235.00,454.00 C240.25,454.40 244.33,454.25 249.00,454.00 C253.67,453.75 257.83,453.12 263.00,452.50 C268.17,451.88 275.57,450.72 280.00,450.30 C284.43,449.88 284.80,450.10 289.60,450.00 C294.40,449.90 302.40,449.78 308.80,449.70 C315.20,449.62 322.80,449.58 328.00,449.50 C333.20,449.42 332.17,449.10 340.00,449.20 C347.83,449.30 366.23,449.63 375.00,450.10 C383.77,450.57 386.75,451.32 392.60,452.00 C398.45,452.68 404.27,453.45 410.10,454.20 C415.93,454.95 421.77,455.77 427.60,456.50 C433.43,457.23 439.70,457.93 445.10,458.60 C450.50,459.27 453.07,460.05 460.00,460.50 C466.93,460.95 480.03,461.25 486.70,461.30 C493.37,461.35 495.60,461.20 500.00,460.80 C504.40,460.40 508.73,459.65 513.10,458.90 C517.47,458.15 521.83,457.62 526.20,456.30 C530.57,454.98 535.38,453.40 539.30,451.00 C543.22,448.60 546.87,444.95 549.70,441.90 C552.53,438.85 554.33,436.20 556.30,432.70 C558.27,429.20 559.77,424.60 561.50,420.90 C563.23,417.20 565.27,413.32 566.70,410.50 C568.13,407.68 568.52,407.12 570.10,404.00 C571.68,400.88 573.97,395.65 576.20,391.80 C578.43,387.95 580.67,384.13 583.50,380.90 C586.33,377.67 589.97,374.63 593.20,372.40 C596.43,370.17 599.25,368.12 602.90,367.50 C606.55,366.88 611.25,367.48 615.10,368.70 C618.95,369.92 622.77,373.05 626.00,374.80 C629.23,376.55 631.70,377.75 634.50,379.20 C635.82,376.16 637.25,372.37 638.50,370.00 C639.75,367.63 640.83,366.70 642.00,365.00 C643.17,363.30 644.25,361.55 645.50,359.80 C646.75,358.05 648.18,356.25 649.50,354.50 C648.77,352.78 648.40,350.75 647.30,349.30 C646.20,347.85 644.65,346.97 642.90,345.80 C641.15,344.63 638.33,343.77 636.80,342.30 C635.27,340.83 634.28,339.05 633.70,337.00 C633.12,334.95 633.17,333.02 633.30,330.00 C633.43,326.98 633.68,322.78 634.50,318.90 C635.32,315.02 637.05,310.52 638.20,306.70 C639.35,302.88 640.93,299.28 641.40,296.00 C641.87,292.72 641.17,289.92 641.00,287.00 C640.83,284.08 640.57,282.10 640.40,278.50 C640.23,274.90 640.17,270.07 640.00,265.40 C639.83,260.73 639.03,254.85 639.40,250.50 C639.77,246.15 640.95,242.42 642.20,239.30 C643.45,236.18 645.43,234.62 646.90,231.80 C648.37,228.98 650.47,225.83 651.00,222.40 C651.53,218.97 650.30,215.15 650.10,211.20 C649.90,207.25 649.97,203.40 649.80,198.70 C649.63,194.00 649.10,188.23 649.10,183.00 C649.10,177.77 649.80,172.17 649.80,167.30 C649.80,162.43 648.83,157.53 649.10,153.80 C649.37,150.07 649.72,148.27 651.40,144.90 C653.08,141.53 657.10,137.35 659.20,133.60 C661.30,129.85 663.62,126.13 664.00,122.40 C664.38,118.67 662.58,114.60 661.50,111.20 C660.42,107.80 658.43,105.20 657.50,102.00 C656.57,98.80 656.17,95.92 655.90,92.00 C655.63,88.08 655.92,83.83 655.90,78.50 C655.88,73.17 656.15,64.83 655.80,60.00 C655.45,55.17 654.45,52.78 653.80,49.50 C653.15,46.22 652.22,43.13 651.90,40.30 C651.58,37.47 651.37,34.90 651.90,32.50 C652.43,30.10 653.58,28.08 655.10,25.90 C656.62,23.72 659.13,21.47 661.00,19.40 C662.87,17.33 665.30,14.73 666.30,13.50 C667.30,12.27 666.88,12.25 667.00,12.00 L667.60,12.35 L667.60,476.40 L68.65,476.40 Z" fill="#a01c1c"/></g>
<path d="M68.70,207.20 C68.93,207.23 68.18,207.10 70.10,207.40 C72.02,207.70 77.22,208.08 80.20,209.00 C83.18,209.92 85.75,211.32 88.00,212.90 C90.25,214.48 92.32,216.57 93.70,218.50 C95.08,220.43 95.62,222.15 96.30,224.50 C96.98,226.85 97.43,229.93 97.80,232.60 C98.17,235.27 98.28,237.68 98.50,240.50 C98.72,243.32 98.80,245.92 99.10,249.50 C99.40,253.08 99.73,257.25 100.30,262.00 C100.87,266.75 101.65,272.93 102.50,278.00 C103.35,283.07 104.17,287.52 105.40,292.40 C106.63,297.28 108.40,302.33 109.90,307.30 C111.40,312.27 113.08,318.33 114.40,322.20 C115.72,326.07 116.45,326.37 117.80,330.50 C119.15,334.63 121.13,342.08 122.50,347.00 C123.87,351.92 124.65,354.83 126.00,360.00 C127.35,365.17 128.67,371.33 130.60,378.00 C132.53,384.67 134.57,393.40 137.60,400.00 C140.63,406.60 144.90,412.50 148.80,417.60 C152.70,422.70 156.80,427.00 161.00,430.60 C165.20,434.20 169.57,436.73 174.00,439.20 C178.43,441.67 183.27,443.80 187.60,445.40 C191.93,447.00 195.02,447.77 200.00,448.80 C204.98,449.83 211.67,450.73 217.50,451.60 C223.33,452.47 229.75,453.60 235.00,454.00 C240.25,454.40 244.33,454.25 249.00,454.00 C253.67,453.75 257.83,453.12 263.00,452.50 C268.17,451.88 275.57,450.72 280.00,450.30 C284.43,449.88 284.80,450.10 289.60,450.00 C294.40,449.90 302.40,449.78 308.80,449.70 C315.20,449.62 322.80,449.58 328.00,449.50 C333.20,449.42 332.17,449.10 340.00,449.20 C347.83,449.30 366.23,449.63 375.00,450.10 C383.77,450.57 386.75,451.32 392.60,452.00 C398.45,452.68 404.27,453.45 410.10,454.20 C415.93,454.95 421.77,455.77 427.60,456.50 C433.43,457.23 439.70,457.93 445.10,458.60 C450.50,459.27 453.07,460.05 460.00,460.50 C466.93,460.95 480.03,461.25 486.70,461.30 C493.37,461.35 495.60,461.20 500.00,460.80 C504.40,460.40 508.73,459.65 513.10,458.90 C517.47,458.15 521.83,457.62 526.20,456.30 C530.57,454.98 535.38,453.40 539.30,451.00 C543.22,448.60 546.87,444.95 549.70,441.90 C552.53,438.85 554.33,436.20 556.30,432.70 C558.27,429.20 559.77,424.60 561.50,420.90 C563.23,417.20 565.27,413.32 566.70,410.50 C568.13,407.68 568.52,407.12 570.10,404.00 C571.68,400.88 573.97,395.65 576.20,391.80 C578.43,387.95 580.67,384.13 583.50,380.90 C586.33,377.67 589.97,374.63 593.20,372.40 C596.43,370.17 599.25,368.12 602.90,367.50 C606.55,366.88 611.25,367.48 615.10,368.70 C618.95,369.92 622.77,373.05 626.00,374.80 C629.23,376.55 631.70,377.75 634.50,379.20 C635.82,376.16 637.25,372.37 638.50,370.00 C639.75,367.63 640.83,366.70 642.00,365.00 C643.17,363.30 644.25,361.55 645.50,359.80 C646.75,358.05 648.18,356.25 649.50,354.50 C648.77,352.78 648.40,350.75 647.30,349.30 C646.20,347.85 644.65,346.97 642.90,345.80 C641.15,344.63 638.33,343.77 636.80,342.30 C635.27,340.83 634.28,339.05 633.70,337.00 C633.12,334.95 633.17,333.02 633.30,330.00 C633.43,326.98 633.68,322.78 634.50,318.90 C635.32,315.02 637.05,310.52 638.20,306.70 C639.35,302.88 640.93,299.28 641.40,296.00 C641.87,292.72 641.17,289.92 641.00,287.00 C640.83,284.08 640.57,282.10 640.40,278.50 C640.23,274.90 640.17,270.07 640.00,265.40 C639.83,260.73 639.03,254.85 639.40,250.50 C639.77,246.15 640.95,242.42 642.20,239.30 C643.45,236.18 645.43,234.62 646.90,231.80 C648.37,228.98 650.47,225.83 651.00,222.40 C651.53,218.97 650.30,215.15 650.10,211.20 C649.90,207.25 649.97,203.40 649.80,198.70 C649.63,194.00 649.10,188.23 649.10,183.00 C649.10,177.77 649.80,172.17 649.80,167.30 C649.80,162.43 648.83,157.53 649.10,153.80 C649.37,150.07 649.72,148.27 651.40,144.90 C653.08,141.53 657.10,137.35 659.20,133.60 C661.30,129.85 663.62,126.13 664.00,122.40 C664.38,118.67 662.58,114.60 661.50,111.20 C660.42,107.80 658.43,105.20 657.50,102.00 C656.57,98.80 656.17,95.92 655.90,92.00 C655.63,88.08 655.92,83.83 655.90,78.50 C655.88,73.17 656.15,64.83 655.80,60.00 C655.45,55.17 654.45,52.78 653.80,49.50 C653.15,46.22 652.22,43.13 651.90,40.30 C651.58,37.47 651.37,34.90 651.90,32.50 C652.43,30.10 653.58,28.08 655.10,25.90 C656.62,23.72 659.13,21.47 661.00,19.40 C662.87,17.33 665.30,14.73 666.30,13.50 C667.30,12.27 666.88,12.25 667.00,12.00" fill="none" stroke="#787878" stroke-width="1.5"/>
<path d="M68.70,199.40 C68.93,199.42 67.82,199.28 70.10,199.50 C72.38,199.72 78.47,199.95 82.40,200.70 C86.33,201.45 90.88,202.80 93.70,204.00 C96.52,205.20 97.62,206.30 99.30,207.90 C100.98,209.50 102.68,211.53 103.80,213.60 C104.92,215.67 105.35,217.68 106.00,220.30 C106.65,222.92 107.23,226.12 107.70,229.30 C108.17,232.48 108.48,235.95 108.80,239.40 C109.12,242.85 109.28,247.07 109.60,250.00 C109.92,252.93 110.02,252.43 110.70,257.00 C111.38,261.57 112.45,270.27 113.70,277.40 C114.95,284.53 116.65,292.92 118.20,299.80 C119.75,306.68 121.10,311.50 123.00,318.70 C124.90,325.90 127.57,335.83 129.60,343.00 C131.63,350.17 133.43,356.45 135.20,361.70 C136.97,366.95 138.63,369.53 140.20,374.50 C141.77,379.47 142.37,386.07 144.60,391.50 C146.83,396.93 150.22,402.45 153.60,407.10 C156.98,411.75 161.15,415.28 164.90,419.40 C168.65,423.52 171.92,429.00 176.10,431.80 C180.28,434.60 186.02,435.13 190.00,436.20 C193.98,437.27 195.42,437.18 200.00,438.20 C204.58,439.22 211.67,440.93 217.50,442.30 C223.33,443.67 229.75,445.53 235.00,446.40 C240.25,447.27 244.33,447.50 249.00,447.50 C253.67,447.50 257.83,447.08 263.00,446.40 C268.17,445.72 275.57,444.03 280.00,443.40 C284.43,442.77 284.80,442.68 289.60,442.60 C294.40,442.52 302.38,442.77 308.80,442.90 C315.22,443.03 322.07,443.30 328.10,443.40 C334.13,443.50 339.22,443.50 345.00,443.50 C350.78,443.50 357.80,443.13 362.80,443.40 C367.80,443.67 371.20,444.38 375.00,445.10 C378.80,445.82 381.50,447.07 385.60,447.70 C389.70,448.33 394.93,448.50 399.60,448.90 C404.27,449.30 408.35,449.67 413.60,450.10 C418.85,450.53 425.85,450.97 431.10,451.50 C436.35,452.03 440.28,452.67 445.10,453.30 C449.92,453.93 453.07,454.80 460.00,455.30 C466.93,455.80 477.85,456.53 486.70,456.30 C495.55,456.07 506.52,454.78 513.10,453.90 C519.68,453.02 522.28,452.13 526.20,451.00 C530.12,449.87 533.77,448.83 536.60,447.10 C539.43,445.37 541.23,443.00 543.20,440.60 C545.17,438.20 546.88,435.32 548.40,432.70 C549.92,430.08 550.98,428.17 552.30,424.90 C553.62,421.63 554.95,417.17 556.30,413.10 C557.65,409.03 558.90,404.45 560.40,400.50 C561.90,396.55 563.28,393.68 565.30,389.40 C567.32,385.12 570.08,380.07 572.50,374.80 C574.92,369.53 577.57,363.07 579.80,357.80 C582.03,352.53 583.67,347.65 585.90,343.20 C588.13,338.75 590.77,335.15 593.20,331.10 C595.63,327.05 598.53,322.97 600.50,318.90 C602.47,314.83 604.20,310.52 605.00,306.70 C605.80,302.88 605.17,299.45 605.30,296.00 C605.43,292.55 605.25,290.17 605.80,286.00 C606.35,281.83 607.67,275.98 608.60,271.00 C609.53,266.02 610.15,261.08 611.40,256.10 C612.65,251.12 615.17,246.08 616.10,241.10 C617.03,236.12 616.32,231.18 617.00,226.20 C617.68,221.22 619.70,215.40 620.20,211.20 C620.70,207.00 620.23,204.58 620.00,201.00 C619.77,197.42 619.00,194.20 618.80,189.70 C618.60,185.20 618.98,179.23 618.80,174.00 C618.62,168.77 617.50,163.15 617.70,158.30 C617.90,153.45 618.88,149.75 620.00,144.90 C621.12,140.05 623.67,134.43 624.40,129.20 C625.13,123.97 624.72,117.87 624.40,113.50 C624.08,109.13 622.50,106.58 622.50,103.00 C622.50,99.42 623.15,96.08 624.40,92.00 C625.65,87.92 628.47,82.75 630.00,78.50 C631.53,74.25 633.33,70.03 633.60,66.50 C633.87,62.97 632.48,60.57 631.60,57.30 C630.72,54.03 629.17,50.82 628.30,46.90 C627.43,42.98 625.97,37.95 626.40,33.80 C626.83,29.65 629.17,25.48 630.90,22.00 C632.63,18.52 635.73,14.57 636.80,12.90 C637.87,11.23 637.22,12.15 637.30,12.00" fill="none" stroke="#383838" stroke-width="1.3"/>
<path d="M68.70,202.70 C68.93,202.73 68.18,202.58 70.10,202.90 C72.02,203.22 77.22,203.67 80.20,204.60 C83.18,205.53 85.75,207.00 88.00,208.50 C90.25,210.00 92.10,211.63 93.70,213.60 C95.30,215.57 96.67,218.07 97.60,220.30 C98.53,222.53 98.87,224.20 99.30,227.00 C99.73,229.80 99.93,233.35 100.20,237.10 C100.47,240.85 100.72,245.28 100.90,249.50 C101.08,253.72 100.78,255.27 101.30,262.40 C101.82,269.53 103.33,286.03 104.00,292.30 C104.67,298.57 104.47,294.05 105.30,300.00 C106.13,305.95 107.60,318.03 109.00,328.00 C110.40,337.97 111.93,351.08 113.70,359.80 C115.47,368.52 117.78,374.27 119.60,380.30 C121.42,386.33 122.67,390.03 124.60,396.00 C126.53,401.97 128.60,410.13 131.20,416.10 C133.80,422.07 136.83,427.32 140.20,431.80 C143.57,436.28 147.28,440.02 151.40,443.00 C155.52,445.98 159.67,448.00 164.90,449.70 C170.13,451.40 176.95,452.40 182.80,453.20 C188.65,454.00 194.22,453.80 200.00,454.50 C205.78,455.20 211.67,456.47 217.50,457.40 C223.33,458.33 229.75,459.65 235.00,460.10 C240.25,460.55 244.33,460.55 249.00,460.10 C253.67,459.65 257.83,458.28 263.00,457.40 C268.17,456.52 275.57,455.37 280.00,454.80 C284.43,454.23 284.80,454.23 289.60,454.00 C294.40,453.77 302.38,453.50 308.80,453.40 C315.22,453.30 321.23,453.40 328.10,453.40 C334.97,453.40 342.18,453.37 350.00,453.40 C357.82,453.43 366.73,453.47 375.00,453.60 C383.27,453.73 390.83,454.03 399.60,454.20 C408.37,454.37 420.02,454.53 427.60,454.60 C435.18,454.67 438.37,454.57 445.10,454.60 C451.83,454.63 459.50,454.80 468.00,454.80 C476.50,454.80 488.58,455.02 496.10,454.60 C503.62,454.18 508.08,453.43 513.10,452.30 C518.12,451.17 522.28,449.75 526.20,447.80 C530.12,445.85 533.55,443.55 536.60,440.60 C539.65,437.65 542.10,433.60 544.50,430.10 C546.90,426.60 549.25,423.08 551.00,419.60 C552.75,416.12 553.63,413.02 555.00,409.20 C556.37,405.38 557.70,401.22 559.20,396.70 C560.70,392.18 562.38,387.37 564.00,382.10 C565.62,376.83 567.27,371.18 568.90,365.10 C570.53,359.02 572.18,351.68 573.80,345.60 C575.42,339.52 576.78,333.45 578.60,328.60 C580.42,323.75 582.07,319.93 584.70,316.50 C587.33,313.07 590.95,310.03 594.40,308.00 C597.85,305.97 601.75,305.12 605.40,304.30 C609.05,303.48 613.20,304.15 616.30,303.10 C619.40,302.05 621.85,299.60 624.00,298.00 C626.15,296.40 627.40,296.13 629.20,293.50 C631.00,290.87 633.25,286.25 634.80,282.20 C636.35,278.15 637.73,273.87 638.50,269.20 C639.27,264.53 638.93,258.88 639.40,254.20 C639.87,249.52 641.30,244.53 641.30,241.10 C641.30,237.67 640.02,236.72 639.40,233.60 C638.78,230.48 637.48,225.97 637.60,222.40 C637.72,218.83 638.93,216.15 640.10,212.20 C641.27,208.25 643.28,203.38 644.60,198.70 C645.92,194.02 646.12,188.03 648.00,184.10 C649.88,180.17 653.65,178.47 655.90,175.10 C658.15,171.73 661.32,166.88 661.50,163.90 C661.68,160.92 659.07,159.25 657.00,157.20 C654.93,155.15 650.97,154.03 649.10,151.60 C647.23,149.17 645.42,146.72 645.80,142.60 C646.18,138.48 650.00,131.50 651.40,126.90 C652.80,122.30 654.40,118.82 654.20,115.00 C654.00,111.18 651.23,107.83 650.20,104.00 C649.17,100.17 647.80,96.25 648.00,92.00 C648.20,87.75 650.10,81.88 651.40,78.50 C652.70,75.12 654.20,74.35 655.80,71.70 C657.40,69.05 659.70,65.65 661.00,62.60 C662.30,59.55 663.38,56.02 663.60,53.40 C663.82,50.78 663.27,49.95 662.30,46.90 C661.33,43.85 659.00,39.25 657.80,35.10 C656.60,30.95 655.55,25.70 655.10,22.00 C654.65,18.30 655.10,14.57 655.10,12.90 C655.10,11.23 655.10,12.15 655.10,12.00" fill="none" stroke="#ff0000" stroke-width="1.35"/>
<path d="M68.70,196.60 C68.93,196.62 67.82,196.53 70.10,196.70 C72.38,196.87 78.47,196.93 82.40,197.60 C86.33,198.27 90.70,199.45 93.70,200.70 C96.70,201.95 98.53,203.33 100.40,205.10 C102.27,206.87 103.68,208.95 104.90,211.30 C106.12,213.65 106.95,216.20 107.70,219.20 C108.45,222.20 108.93,225.93 109.40,229.30 C109.87,232.67 110.17,235.62 110.50,239.40 C110.83,243.18 110.87,245.67 111.40,252.00 C111.93,258.33 113.07,269.43 113.70,277.40 C114.33,285.37 114.58,292.92 115.20,299.80 C115.82,306.68 116.25,310.88 117.40,318.70 C118.55,326.52 120.73,339.82 122.10,346.70 C123.47,353.58 124.27,354.80 125.60,360.00 C126.93,365.20 128.23,371.17 130.10,377.90 C131.97,384.63 134.00,393.67 136.80,400.40 C139.60,407.13 143.35,413.07 146.90,418.30 C150.45,423.53 153.98,428.05 158.10,431.80 C162.22,435.55 166.73,438.50 171.60,440.80 C176.47,443.10 182.57,444.48 187.30,445.60 C192.03,446.72 194.97,446.75 200.00,447.50 C205.03,448.25 211.67,449.28 217.50,450.10 C223.33,450.92 229.75,452.02 235.00,452.40 C240.25,452.78 244.33,452.67 249.00,452.40 C253.67,452.13 257.83,451.42 263.00,450.80 C268.17,450.18 275.57,449.08 280.00,448.70 C284.43,448.32 284.80,448.58 289.60,448.50 C294.40,448.42 302.38,448.25 308.80,448.20 C315.22,448.15 321.23,448.20 328.10,448.20 C334.97,448.20 342.18,448.17 350.00,448.20 C357.82,448.23 366.73,448.33 375.00,448.40 C383.27,448.47 390.83,448.67 399.60,448.60 C408.37,448.53 420.87,448.07 427.60,448.00 C434.33,447.93 433.27,448.07 440.00,448.20 C446.73,448.33 458.65,448.73 468.00,448.80 C477.35,448.87 488.58,448.88 496.10,448.60 C503.62,448.32 508.52,448.22 513.10,447.10 C517.68,445.98 520.33,444.30 523.60,441.90 C526.87,439.50 530.08,435.75 532.70,432.70 C535.32,429.65 537.55,426.87 539.30,423.60 C541.05,420.33 541.78,417.03 543.20,413.10 C544.62,409.17 546.15,405.17 547.80,400.00 C549.45,394.83 551.62,388.73 553.10,382.10 C554.58,375.47 555.48,367.48 556.70,360.20 C557.92,352.92 558.77,345.68 560.40,338.40 C562.03,331.12 564.63,323.23 566.50,316.50 C568.37,309.77 570.50,303.08 571.60,298.00 C572.70,292.92 572.53,290.50 573.10,286.00 C573.67,281.50 574.07,276.62 575.00,271.00 C575.93,265.38 577.62,258.53 578.70,252.30 C579.78,246.07 580.42,239.82 581.50,233.60 C582.58,227.38 583.65,221.18 585.20,215.00 C586.75,208.82 588.93,201.83 590.80,196.50 C592.67,191.17 593.78,187.12 596.40,183.00 C599.02,178.88 604.45,175.53 606.50,171.80 C608.55,168.07 608.52,165.08 608.70,160.60 C608.88,156.12 607.22,150.52 607.60,144.90 C607.98,139.28 610.07,132.52 611.00,126.90 C611.93,121.28 612.45,115.15 613.20,111.20 C613.95,107.25 614.18,106.78 615.50,103.20 C616.82,99.62 619.05,94.18 621.10,89.70 C623.15,85.22 626.17,80.17 627.80,76.30 C629.43,72.43 630.82,69.45 630.90,66.50 C630.98,63.55 629.50,61.43 628.30,58.60 C627.10,55.77 624.90,52.98 623.70,49.50 C622.50,46.02 621.20,41.85 621.10,37.70 C621.00,33.55 622.00,28.73 623.10,24.60 C624.20,20.47 626.85,15.00 627.70,12.90 C628.55,10.80 628.12,12.15 628.20,12.00" fill="none" stroke="#ff0000" stroke-width="1.35"/>
<line x1="665.90" y1="12.35" x2="665.90" y2="476.40" stroke="#e01010" stroke-width="0.8" stroke-opacity="0.6"/>
</g>
<line x1="263.5" y1="12.3" x2="263.5" y2="476.4" stroke="#808080" stroke-opacity="0.5" stroke-width="2.6" stroke-dasharray="7.6,8.5" stroke-dashoffset="6.25"/>
<line x1="600.0" y1="12.3" x2="600.0" y2="476.4" stroke="#808080" stroke-opacity="0.5" stroke-width="2.6" stroke-dasharray="7.6,8.5" stroke-dashoffset="6.25"/>
<rect x="68.65" y="12.35" width="598.95" height="464.05" fill="none" stroke="#000" stroke-width="2.8"/>
<line x1="129.58" y1="476.40" x2="129.58" y2="465.40" stroke="#000" stroke-width="2.4"/>
<line x1="129.58" y1="12.35" x2="129.58" y2="23.35" stroke="#000" stroke-width="2.4"/>
<line x1="196.79" y1="476.40" x2="196.79" y2="465.40" stroke="#000" stroke-width="2.4"/>
<line x1="196.79" y1="12.35" x2="196.79" y2="23.35" stroke="#000" stroke-width="2.4"/>
<line x1="264.00" y1="476.40" x2="264.00" y2="465.40" stroke="#000" stroke-width="2.4"/>
<line x1="264.00" y1="12.35" x2="264.00" y2="23.35" stroke="#000" stroke-width="2.4"/>
<line x1="331.21" y1="476.40" x2="331.21" y2="465.40" stroke="#000" stroke-width="2.4"/>
<line x1="331.21" y1="12.35" x2="331.21" y2="23.35" stroke="#000" stroke-width="2.4"/>
<line x1="398.42" y1="476.40" x2="398.42" y2="465.40" stroke="#000" stroke-width="2.4"/>
<line x1="398.42" y1="12.35" x2="398.42" y2="23.35" stroke="#000" stroke-width="2.4"/>
<line x1="465.63" y1="476.40" x2="465.63" y2="465.40" stroke="#000" stroke-width="2.4"/>
<line x1="465.63" y1="12.35" x2="465.63" y2="23.35" stroke="#000" stroke-width="2.4"/>
<line x1="532.84" y1="476.40" x2="532.84" y2="465.40" stroke="#000" stroke-width="2.4"/>
<line x1="532.84" y1="12.35" x2="532.84" y2="23.35" stroke="#000" stroke-width="2.4"/>
<line x1="600.05" y1="476.40" x2="600.05" y2="465.40" stroke="#000" stroke-width="2.4"/>
<line x1="600.05" y1="12.35" x2="600.05" y2="23.35" stroke="#000" stroke-width="2.4"/>
<line x1="68.65" y1="106.07" x2="79.65" y2="106.07" stroke="#000" stroke-width="2.4"/>
<line x1="667.60" y1="106.07" x2="656.60" y2="106.07" stroke="#000" stroke-width="2.4"/>
<line x1="68.65" y1="199.74" x2="79.65" y2="199.74" stroke="#000" stroke-width="2.4"/>
<line x1="667.60" y1="199.74" x2="656.60" y2="199.74" stroke="#000" stroke-width="2.4"/>
<line x1="68.65" y1="293.41" x2="79.65" y2="293.41" stroke="#000" stroke-width="2.4"/>
<line x1="667.60" y1="293.41" x2="656.60" y2="293.41" stroke="#000" stroke-width="2.4"/>
<line x1="68.65" y1="387.08" x2="79.65" y2="387.08" stroke="#000" stroke-width="2.4"/>
<line x1="667.60" y1="387.08" x2="656.60" y2="387.08" stroke="#000" stroke-width="2.4"/>
<path d="M270.10,187.06 L269.92,188.47 L269.42,190.07 L268.53,191.79 L267.30,193.61 L265.71,195.46 L263.76,197.28 L261.55,199.11 L259.08,200.93 L256.38,202.72 L253.47,204.50 L250.39,206.28 L247.15,208.05 L243.77,209.80 L240.28,211.54 L236.68,213.26 L233.00,214.95 L229.26,216.63 L225.48,218.29 L221.68,219.92 L217.87,221.53 L214.07,223.10 L210.30,224.64 L206.58,226.14 L202.93,227.61 L199.36,229.04 L195.90,230.43 L192.56,231.78 L189.36,233.09 L186.33,234.36 L183.47,235.59 L180.81,236.78 L178.36,237.91 L176.14,238.99 L174.16,240.02 L172.45,241.00 L171.60,238.60 L164.80,245.00 L174.20,245.90 L173.55,242.90 L175.21,242.02 L177.15,241.09 L179.36,240.10 L181.80,239.07 L184.47,237.98 L187.34,236.86 L190.40,235.68 L193.61,234.44 L196.97,233.17 L200.46,231.85 L204.05,230.50 L207.74,229.11 L211.50,227.68 L215.31,226.22 L219.16,224.72 L223.02,223.19 L226.89,221.63 L230.73,220.04 L234.54,218.42 L238.29,216.76 L241.96,215.08 L245.55,213.37 L249.02,211.64 L252.37,209.88 L255.57,208.10 L258.61,206.30 L261.48,204.47 L264.16,202.64 L266.67,200.81 L268.94,198.94 L271.06,197.09 L272.96,195.19 L274.62,193.19 L276.04,191.07 L277.10,188.74 L272.99,190.43 Z" fill="#8c8c8c" stroke="#404040" stroke-width="1.1" stroke-linejoin="miter"/>
<path d="M530.40,161.55 L532.42,160.86 L534.38,160.16 L536.28,159.43 L538.12,158.69 L539.92,157.91 L541.66,157.12 L543.37,156.29 L545.04,155.44 L546.67,154.55 L548.28,153.63 L549.86,152.68 L551.43,151.69 L552.98,150.66 L554.52,149.60 L556.05,148.49 L557.59,147.35 L559.12,146.15 L560.67,144.91 L562.24,143.63 L563.82,142.29 L565.43,140.91 L567.08,139.47 L568.76,137.98 L570.48,136.43 L572.25,134.82 L574.08,133.14 L575.96,131.41 L577.90,129.60 L579.91,127.73 L581.99,125.78 L584.16,123.76 L586.40,121.67 L588.74,119.50 L591.16,117.25 L593.69,114.92 L595.90,115.70 L598.20,107.40 L589.20,110.60 L591.91,112.88 L589.26,115.09 L586.72,117.22 L584.27,119.27 L581.92,121.25 L579.66,123.15 L577.48,124.99 L575.38,126.75 L573.35,128.45 L571.40,130.08 L569.50,131.65 L567.67,133.15 L565.89,134.59 L564.16,135.98 L562.47,137.30 L560.82,138.57 L559.21,139.77 L557.63,140.93 L556.07,142.03 L554.53,143.08 L553.01,144.09 L551.49,145.05 L549.99,145.96 L548.48,146.84 L546.97,147.67 L545.45,148.47 L543.91,149.23 L542.35,149.96 L540.76,150.66 L539.14,151.33 L537.48,151.97 L535.78,152.59 L534.02,153.19 L532.21,153.76 L530.34,154.31 L528.40,154.85 L531.89,157.45 Z" fill="#8c8c8c" stroke="#404040" stroke-width="1.1" stroke-linejoin="miter"/>
<text transform="translate(116.40,58.30) scale(1,1.040)" font-size="20.70" fill="#ff0000" text-anchor="start" textLength="48.20" lengthAdjust="spacingAndGlyphs" >CMB</text>
<text transform="translate(116.40,82.60) scale(1,1.040)" font-size="20.70" fill="#000" text-anchor="start" textLength="48.60" lengthAdjust="spacingAndGlyphs" >CMB</text>
<path d="M174.5,76.1 H187.4 M181,69.5 V82.7" stroke="#000" stroke-width="1.8" fill="none"/>
<text transform="translate(197.60,82.60) scale(1,1.040)" font-size="20.70" fill="#000" text-anchor="start" textLength="83.40" lengthAdjust="spacingAndGlyphs" >WiggleZ</text>
<text transform="translate(96.75,178.30) scale(1,1.040)" font-size="20.70" fill="#858585" text-anchor="start" textLength="55.15" lengthAdjust="spacingAndGlyphs" >Axion</text>
<text transform="translate(160.70,178.30) scale(1,1.040)" font-size="20.70" fill="#858585" text-anchor="start" textLength="20.10" lengthAdjust="spacingAndGlyphs" >as</text>
<text transform="translate(189.20,178.30) scale(1,1.040)" font-size="20.70" fill="#858585" text-anchor="start" textLength="47.60" lengthAdjust="spacingAndGlyphs" >Dark</text>
<text transform="translate(245.40,178.30) scale(1,1.040)" font-size="20.70" fill="#858585" text-anchor="start" textLength="68.50" lengthAdjust="spacingAndGlyphs" >energy</text>
<text transform="translate(440.10,171.90) scale(1,1.040)" font-size="20.70" fill="#858585" text-anchor="start" textLength="55.60" lengthAdjust="spacingAndGlyphs" >Axion</text>
<text transform="translate(504.10,171.90) scale(1,1.040)" font-size="20.70" fill="#858585" text-anchor="start" textLength="20.20" lengthAdjust="spacingAndGlyphs" >as</text>
<text transform="translate(446.20,198.90) scale(1,1.040)" font-size="20.70" fill="#858585" text-anchor="start" textLength="47.70" lengthAdjust="spacingAndGlyphs" >Dark</text>
<text transform="translate(502.40,198.90) scale(1,1.040)" font-size="20.70" fill="#858585" text-anchor="start" textLength="67.90" lengthAdjust="spacingAndGlyphs" >matter</text>
<text transform="translate(277.80,410.00) scale(1,1.040)" font-size="20.70" fill="#a8a8a8" text-anchor="start" textLength="123.00" lengthAdjust="spacingAndGlyphs" >Constrained</text>
<text transform="translate(409.40,410.00) scale(1,1.040)" font-size="20.70" fill="#a8a8a8" text-anchor="start" textLength="69.50" lengthAdjust="spacingAndGlyphs" >Region</text>
<text transform="translate(62.40,16.10) scale(1,1.000)" font-size="17.50" fill="#000" text-anchor="end" textLength="22.80" lengthAdjust="spacingAndGlyphs" >1.0</text>
<text transform="translate(62.40,109.77) scale(1,1.000)" font-size="17.50" fill="#000" text-anchor="end" textLength="22.80" lengthAdjust="spacingAndGlyphs" >0.8</text>
<text transform="translate(62.40,203.44) scale(1,1.000)" font-size="17.50" fill="#000" text-anchor="end" textLength="22.80" lengthAdjust="spacingAndGlyphs" >0.6</text>
<text transform="translate(62.40,297.11) scale(1,1.000)" font-size="17.50" fill="#000" text-anchor="end" textLength="22.80" lengthAdjust="spacingAndGlyphs" >0.4</text>
<text transform="translate(62.40,390.78) scale(1,1.000)" font-size="17.50" fill="#000" text-anchor="end" textLength="22.80" lengthAdjust="spacingAndGlyphs" >0.2</text>
<text transform="translate(129.18,494.00) scale(1,1.000)" font-size="17.50" fill="#000" text-anchor="middle" textLength="31.00" lengthAdjust="spacingAndGlyphs" >−32</text>
<text transform="translate(196.39,494.00) scale(1,1.000)" font-size="17.50" fill="#000" text-anchor="middle" textLength="31.00" lengthAdjust="spacingAndGlyphs" >−31</text>
<text transform="translate(263.60,494.00) scale(1,1.000)" font-size="17.50" fill="#000" text-anchor="middle" textLength="31.00" lengthAdjust="spacingAndGlyphs" >−30</text>
<text transform="translate(330.81,494.00) scale(1,1.000)" font-size="17.50" fill="#000" text-anchor="middle" textLength="31.00" lengthAdjust="spacingAndGlyphs" >−29</text>
<text transform="translate(398.02,494.00) scale(1,1.000)" font-size="17.50" fill="#000" text-anchor="middle" textLength="31.00" lengthAdjust="spacingAndGlyphs" >−28</text>
<text transform="translate(465.23,494.00) scale(1,1.000)" font-size="17.50" fill="#000" text-anchor="middle" textLength="31.00" lengthAdjust="spacingAndGlyphs" >−27</text>
<text transform="translate(532.44,494.00) scale(1,1.000)" font-size="17.50" fill="#000" text-anchor="middle" textLength="31.00" lengthAdjust="spacingAndGlyphs" >−26</text>
<text transform="translate(599.65,494.00) scale(1,1.000)" font-size="17.50" fill="#000" text-anchor="middle" textLength="31.00" lengthAdjust="spacingAndGlyphs" >−25</text>
<text transform="translate(666.86,494.00) scale(1,1.000)" font-size="17.50" fill="#000" text-anchor="middle" textLength="31.00" lengthAdjust="spacingAndGlyphs" >−24</text>
<text transform="translate(290.70,526.80) scale(1,1.000)" font-size="27.00" fill="#000" text-anchor="start" textLength="32.60" lengthAdjust="spacingAndGlyphs" stroke="#000" stroke-width="0.15" >log</text>
<text transform="translate(324.00,533.20) scale(1,1.000)" font-size="18.50" fill="#000" text-anchor="start" textLength="18.60" lengthAdjust="spacingAndGlyphs" stroke="#000" stroke-width="0.10" >10</text>
<text transform="translate(343.80,527.60) scale(1,1.000)" font-size="31.00" fill="#000" text-anchor="start" textLength="6.80" lengthAdjust="spacingAndGlyphs" >(</text>
<text transform="translate(352.80,526.80) scale(1,1.000)" font-size="27.00" fill="#000" text-anchor="start" textLength="21.00" lengthAdjust="spacingAndGlyphs" stroke="#000" stroke-width="0.15" font-style="italic">m</text>
<text transform="translate(376.40,532.50) scale(1,1.000)" font-size="18.50" fill="#000" text-anchor="start" textLength="10.40" lengthAdjust="spacingAndGlyphs" stroke="#000" stroke-width="0.10" font-style="italic">a</text>
<line x1="392.6" y1="533.8" x2="400.8" y2="506.2" stroke="#000" stroke-width="1.3"/>
<text transform="translate(402.60,526.80) scale(1,1.000)" font-size="27.00" fill="#000" text-anchor="start" textLength="34.00" lengthAdjust="spacingAndGlyphs" stroke="#000" stroke-width="0.15" >eV</text>
<text transform="translate(438.60,527.60) scale(1,1.000)" font-size="31.00" fill="#000" text-anchor="start" textLength="6.80" lengthAdjust="spacingAndGlyphs" >)</text>
<g transform="translate(20.2,283.2) rotate(-90)">
<text transform="translate(0.00,0.00) scale(1,1.000)" font-size="26.00" fill="#000" text-anchor="start" textLength="16.90" lengthAdjust="spacingAndGlyphs" stroke="#000" stroke-width="0.10" >Ω</text>
<text transform="translate(18.50,7.50) scale(1,1.000)" font-size="18.00" fill="#000" text-anchor="start" textLength="9.20" lengthAdjust="spacingAndGlyphs" font-style="italic">a</text>
<line x1="30.6" y1="8.2" x2="45.2" y2="-18.3" stroke="#000" stroke-width="1.3"/>
<text transform="translate(47.90,0.00) scale(1,1.000)" font-size="26.00" fill="#000" text-anchor="start" textLength="16.90" lengthAdjust="spacingAndGlyphs" stroke="#000" stroke-width="0.10" >Ω</text>
<text transform="translate(65.60,7.50) scale(1,1.000)" font-size="18.00" fill="#000" text-anchor="start" textLength="10.10" lengthAdjust="spacingAndGlyphs" font-style="italic">d</text>
</g>
</svg>
</body></html>
